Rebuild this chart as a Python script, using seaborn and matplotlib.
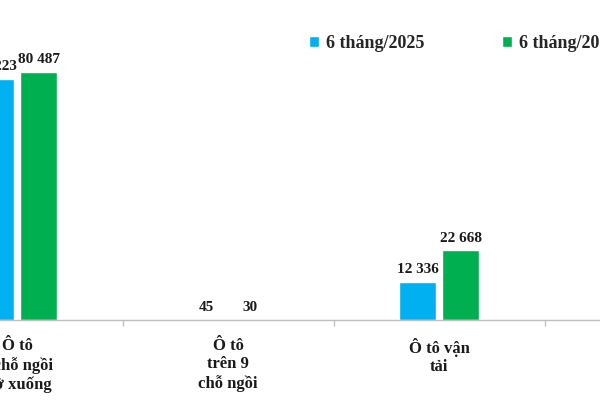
import matplotlib
matplotlib.use("Agg")
import matplotlib.pyplot as plt
import seaborn as sns
import pandas as pd

categories = ["Ô tô\n9 chỗ ngồi\ntrở xuống", "Ô tô\ntrên 9\nchỗ ngồi", "Ô tô vận\ntải"]
series_names = ["6 tháng/2025", "6 tháng/2026"]
values_2025 = [78223, 45, 12336]
values_2026 = [80487, 30, 22668]
colors = ["#00B0F0", "#00B050"]

sns.set_theme(style="white")
plt.rcParams["font.family"] = ["Liberation Serif", "DejaVu Serif"]

df = pd.DataFrame({
    "cat": categories * 2,
    "series": [series_names[0]] * 3 + [series_names[1]] * 3,
    "value": values_2025 + values_2026,
})

fig = plt.figure(figsize=(6, 4), dpi=100)
ax = fig.add_axes([0, 0.2, 1, 0.8])
sns.barplot(data=df, x="cat", y="value", hue="series", palette=colors,
            width=0.408, gap=0.14, ax=ax, saturation=1, order=categories,
            hue_order=series_names)

for cont in ax.containers:
    labels = [f"{int(v):,}".replace(",", " ") for v in cont.datavalues]
    anns = ax.bar_label(cont, labels=labels, padding=4, fontsize=11,
                        fontweight="bold", color="#1a1a1a")
    for a in anns:
        a.set_annotation_clip(False)

ax.set_xlim(-0.0806, 2.763)
ax.set_ylim(0, 103855)
ax.set_yticks([])
ax.set_xlabel("")
ax.set_ylabel("")
for s in ["left", "right", "top"]:
    ax.spines[s].set_visible(False)
ax.spines["bottom"].set_color("#BFBFBF")
ax.spines["bottom"].set_linewidth(1)

ax.set_xticks([0, 1, 2])
ax.set_xticklabels(categories, fontsize=12, fontweight="bold", color="#1a1a1a",
                   linespacing=1.2)
ax.tick_params(axis="x", which="major", length=0, pad=13)
ax.set_xticks([0.5, 1.5, 2.5], minor=True)
ax.tick_params(axis="x", which="minor", length=4, color="#BFBFBF", width=1,
               direction="out", bottom=True)

leg = ax.legend(loc="center left", bbox_to_anchor=(309 / 600, 1 - 43 / 400),
                bbox_transform=fig.transFigure, ncol=2, frameon=False,
                handlelength=0.55, handleheight=0.55, handletextpad=0.4,
                columnspacing=4.3, borderpad=0, borderaxespad=0,
                prop={"family": "Liberation Serif", "weight": "bold", "size": 13})

fig.savefig("out.png", dpi=100)
